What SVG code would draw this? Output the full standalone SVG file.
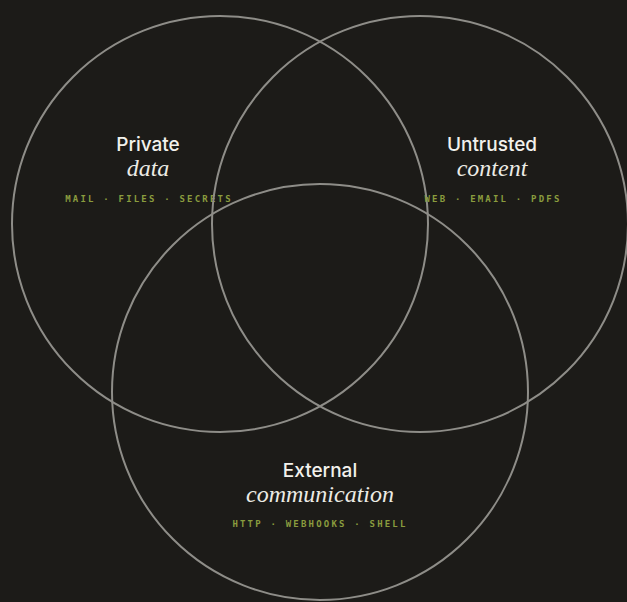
<svg xmlns="http://www.w3.org/2000/svg" width="627" height="602" viewBox="0 0 627 602">
<style>
.ring{fill:none;stroke:#8e8d88;stroke-width:2}
.title{font-family:Inter,"Liberation Sans",sans-serif;font-size:19px;font-weight:500;fill:#f2f1ec;text-anchor:middle}
.sub{font-family:"Liberation Serif","Times New Roman",serif;font-style:italic;font-weight:400;font-size:24px;fill:#ecebe5;text-anchor:middle}
.tags{font-family:"DejaVu Sans Mono","Liberation Mono",monospace;font-size:9px;font-weight:bold;letter-spacing:2.2px;fill:#8a9c3e;text-anchor:middle}
</style>
<rect width="627" height="602" fill="#1c1b18"/>
<g id="connectors"></g>
<g id="private">
<circle class="ring" cx="220" cy="224" r="208"/>
<text class="title" x="148" y="151">Private</text>
<text class="sub" x="148" y="176">data</text>
<text class="tags" x="149" y="202">MAIL · FILES · SECRETS</text>
</g>
<g id="untrusted">
<circle class="ring" cx="420" cy="224" r="208"/>
<text class="title" x="492" y="151">Untrusted</text>
<text class="sub" x="492" y="176">content</text>
<text class="tags" x="493" y="202">WEB · EMAIL · PDFS</text>
</g>
<g id="external">
<circle class="ring" cx="320" cy="392" r="208"/>
<text class="title" x="320" y="477">External</text>
<text class="sub" x="320" y="502">communication</text>
<text class="tags" x="320" y="527">HTTP · WEBHOOKS · SHELL</text>
</g>
</svg>
